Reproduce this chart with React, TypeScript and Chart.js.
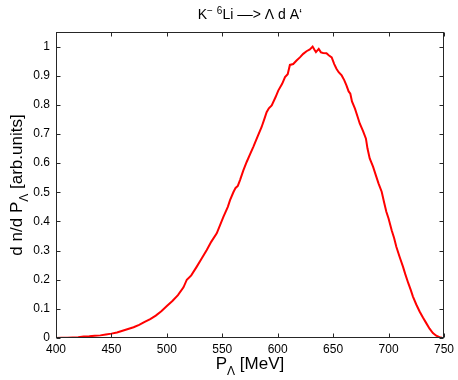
import React, { useEffect, useRef } from "react";
import { Chart, registerables } from "chart.js";

Chart.register(...registerables);

const momentum: number[] = [
  400, 405, 410, 415, 420, 425, 430, 435, 440, 445, 450, 455, 460, 465, 470, 475, 480, 485, 490, 495,
  500, 505, 510, 515, 518, 522, 527, 531, 536, 540, 545, 551, 555, 557, 560, 562, 564, 566, 569, 572,
  575, 578, 582, 585.5, 588, 590, 592, 594.6, 598, 600.5, 604, 606.6, 609, 611, 614, 617, 620, 623, 626, 629,
  631.5, 633, 634.5, 637, 639, 641, 644, 646, 648.7, 651, 653, 655, 657.7, 660, 662, 664, 665.5, 667, 669.7, 672,
  674, 677, 679.6, 681, 683, 686, 689, 691, 693.8, 696, 698, 700, 702.8, 705, 707, 710, 713, 715, 717.8, 720,
  722, 725, 728, 731, 734, 737, 740, 743, 746, 748, 750,
];

const yield_: number[] = [
  0, 0.0005, 0.001, 0.002, 0.003, 0.005, 0.006, 0.008, 0.009, 0.012, 0.015, 0.019, 0.025, 0.031, 0.037, 0.045, 0.055, 0.065, 0.077, 0.092,
  0.11, 0.127, 0.147, 0.174, 0.2, 0.215, 0.245, 0.27, 0.302, 0.33, 0.359, 0.416, 0.45, 0.473, 0.5, 0.515, 0.522, 0.542, 0.575, 0.604,
  0.63, 0.656, 0.693, 0.724, 0.752, 0.775, 0.788, 0.798, 0.826, 0.849, 0.872, 0.895, 0.905, 0.937, 0.94, 0.952, 0.963, 0.975, 0.984, 0.99,
  1.0, 0.99, 0.981, 0.992, 0.98, 0.978, 0.977, 0.97, 0.963, 0.94, 0.924, 0.912, 0.901, 0.885, 0.867, 0.846, 0.838, 0.812, 0.787, 0.76,
  0.736, 0.71, 0.684, 0.65, 0.616, 0.588, 0.553, 0.53, 0.502, 0.465, 0.433, 0.41, 0.37, 0.343, 0.313, 0.278, 0.245, 0.22, 0.188, 0.165,
  0.142, 0.115, 0.091, 0.07, 0.051, 0.032, 0.017, 0.008, 0.003, 0.001, 0,
];

const xTicks: number[] = [400, 450, 500, 550, 600, 650, 700, 750];
const yTicks: number[] = [0, 0.1, 0.2, 0.3, 0.4, 0.5, 0.6, 0.7, 0.8, 0.9, 1];

const FONT = "'Liberation Sans', Arial, Helvetica, sans-serif";

const overlayPlugin = {
  id: "matlabOverlay",
  afterDraw(chart: any) {
    const ctx = chart.ctx as CanvasRenderingContext2D;
    const { left, right, top, bottom } = chart.chartArea;
    const xs = chart.scales.x;
    const ys = chart.scales.y;
    ctx.save();
    ctx.strokeStyle = "#262626";
    ctx.lineWidth = 1;
    const L = Math.round(left) + 0.5;
    const R = Math.round(right) - 0.5;
    const T = Math.round(top) + 0.5;
    const B = Math.round(bottom) - 0.5;
    ctx.strokeRect(L, T, R - L, B - T);
    const tl = 4;
    ctx.beginPath();
    xTicks.forEach((v) => {
      const px = Math.round(xs.getPixelForValue(v)) + 0.5;
      ctx.moveTo(px, B);
      ctx.lineTo(px, B - tl);
      ctx.moveTo(px, T);
      ctx.lineTo(px, T + tl);
    });
    yTicks.forEach((v) => {
      const py = Math.round(ys.getPixelForValue(v)) + 0.5;
      ctx.moveTo(L, py);
      ctx.lineTo(L + tl, py);
      ctx.moveTo(R, py);
      ctx.lineTo(R - tl, py);
    });
    ctx.stroke();

    ctx.fillStyle = "#000";
    ctx.textBaseline = "alphabetic";
    ctx.textAlign = "left";
    const cx = (left + right) / 2;

    const big = `14px ${FONT}`;
    const small = `10px ${FONT}`;
    const parts: [string, string, number][] = [
      ["K", big, 0],
      ["\u2212", small, -5],
      [" ", big, 0],
      ["6", small, -5],
      ["Li \u2013\u2013> \u039B d A\u2018", big, 0],
    ];
    let tw = 0;
    parts.forEach(([t, f]) => {
      ctx.font = f;
      tw += ctx.measureText(t).width;
    });
    let tx = cx - tw / 2;
    parts.forEach(([t, f, dy]) => {
      ctx.font = f;
      ctx.fillText(t, tx, 19 + dy);
      tx += ctx.measureText(t).width;
    });

    const tf = `17px ${FONT}`;
    const sf = `12px ${FONT}`;
    const xParts: [string, string, number][] = [
      ["P", tf, 0],
      ["\u039B", sf, 6],
      [" [MeV]", tf, 0],
    ];
    let xw = 0;
    xParts.forEach(([t, f]) => {
      ctx.font = f;
      xw += ctx.measureText(t).width;
    });
    let xx = cx - xw / 2;
    xParts.forEach(([t, f, dy]) => {
      ctx.font = f;
      ctx.fillText(t, xx, 369 + dy);
      xx += ctx.measureText(t).width;
    });

    const yParts: [string, string, number][] = [
      ["d n/d P", tf, 0],
      ["\u039B", sf, 6],
      [" [arb.units]", tf, 0],
    ];
    let yw = 0;
    yParts.forEach(([t, f]) => {
      ctx.font = f;
      yw += ctx.measureText(t).width;
    });
    ctx.translate(22, (top + bottom) / 2);
    ctx.rotate(-Math.PI / 2);
    let yx = -yw / 2;
    yParts.forEach(([t, f, dy]) => {
      ctx.font = f;
      ctx.fillText(t, yx, dy);
      yx += ctx.measureText(t).width;
    });
    ctx.restore();
  },
};

export default function App() {
  const ref = useRef<HTMLCanvasElement | null>(null);
  useEffect(() => {
    if (!ref.current) return;
    const points = momentum.map((x, i) => ({ x, y: yield_[i] }));
    const chart = new Chart(ref.current, {
      type: "line",
      data: {
        datasets: [
          {
            data: points,
            borderColor: "#ff0000",
            borderWidth: 2,
            pointRadius: 0,
            fill: false,
            tension: 0,
          },
        ],
      },
      options: {
        responsive: false,
        animation: false,
        layout: { padding: { left: 0, right: 14, top: 32, bottom: 0 } },
        plugins: { legend: { display: false }, title: { display: false }, tooltip: { enabled: false } },
        scales: {
          x: {
            type: "linear",
            min: 400,
            max: 750,
            grid: { display: false, drawTicks: false },
            border: { display: false },
            afterBuildTicks: (s: any) => {
              s.ticks = xTicks.map((v) => ({ value: v }));
            },
            afterFit: (s: any) => {
              s.height = 42;
            },
            ticks: {
              padding: 4,
              maxRotation: 0,
              autoSkip: false,
              color: "#000",
              font: { family: FONT, size: 12 },
              callback: (v: any) => String(v),
            },
          },
          y: {
            type: "linear",
            min: 0,
            max: 1.05,
            grid: { display: false, drawTicks: false },
            border: { display: false },
            afterBuildTicks: (s: any) => {
              s.ticks = yTicks.map((v) => ({ value: v }));
            },
            afterFit: (s: any) => {
              s.width = 56;
            },
            ticks: {
              padding: 6,
              autoSkip: false,
              color: "#000",
              font: { family: FONT, size: 12 },
              callback: (v: any) => String(parseFloat(Number(v).toFixed(1))),
            },
          },
        },
      },
      plugins: [overlayPlugin],
    });
    return () => chart.destroy();
  }, []);
  return (
    <div style={{ position: "absolute", left: 0, top: 0, width: 458, height: 380, background: "#fff" }}>
      <canvas ref={ref} width={458} height={380} style={{ width: 458, height: 380, display: "block" }} />
    </div>
  );
}
